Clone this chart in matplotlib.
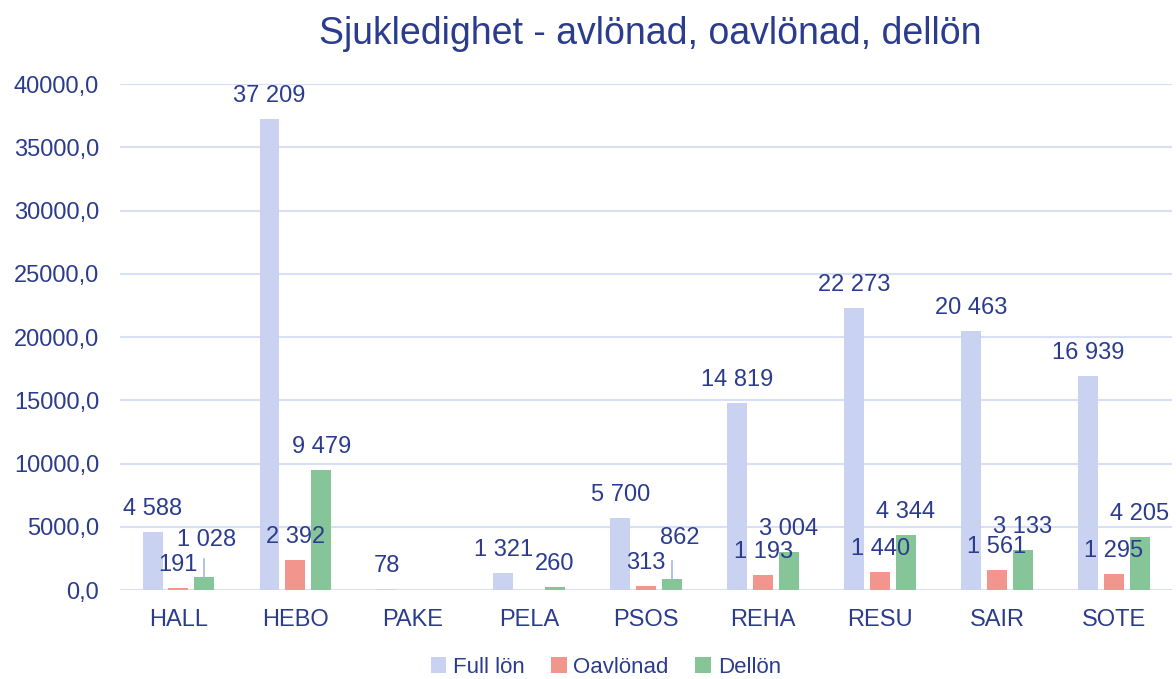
import numpy as np
import matplotlib
matplotlib.use("Agg")
import matplotlib.pyplot as plt

categories = ["HALL", "HEBO", "PAKE", "PELA", "PSOS", "REHA", "RESU", "SAIR", "SOTE"]
full_lon = [4588, 37209, 78, 1321, 5700, 14819, 22273, 20463, 16939]
oavlonad = [191, 2392, np.nan, np.nan, 313, 1193, 1440, 1561, 1295]
dellon = [1028, 9479, np.nan, 260, 862, 3004, 4344, 3133, 4205]
series_names = ["Full lön", "Oavlönad", "Dellön"]
title = "Sjukledighet - avlönad, oavlönad, dellön"

colors = ["#C9D2F1", "#F2968D", "#86C597"]
text_color = "#2B3C8E"
grid_color = "#D9DFF5"

plt.rcParams["font.family"] = ["Liberation Sans", "DejaVu Sans"]

fig = plt.figure(figsize=(11.76, 6.79), dpi=100)
ax = fig.add_axes([0.102, 0.131, 0.895, 0.745])

x = np.arange(len(categories))
width = 0.17
step = 0.221
series = [full_lon, oavlonad, dellon]

# per-label extra offsets (pixels) for labels moved in the original
extra = {(2, 0): (2, 14), (2, 4): (8, 18)}
leader = {(2, 0), (2, 4)}

def fmt(v):
    return f"{int(round(v)):,}".replace(",", " ")

for si, vals in enumerate(series):
    xs = x + (si - 1) * step
    ax.bar(xs, vals, width=width, color=colors[si], label=series_names[si], zorder=3)
    for ci, v in enumerate(vals):
        if np.isnan(v):
            continue
        dx, dy = extra.get((si, ci), (0, 0))
        ax.annotate(fmt(v), (xs[ci], v), xytext=(dx * 0.72, (12 + dy) * 0.72),
                    textcoords="offset points", ha="center", va="bottom",
                    fontsize=17, color=text_color, zorder=5)
        if (si, ci) in leader:
            ax.plot([xs[ci], xs[ci]], [v + 30, v + 1450],
                    color="#A9B6E8", lw=1.2, zorder=4)

ax.set_ylim(0, 40000)
ax.set_xlim(-0.5, 8.5)
ax.set_yticks(np.arange(0, 40001, 5000))
ax.set_yticklabels([f"{v},0" for v in range(0, 40001, 5000)])
ax.set_xticks(x)
ax.set_xticklabels(categories)
ax.tick_params(axis="both", length=0, labelsize=17, colors=text_color)
ax.tick_params(axis="x", pad=14)
ax.tick_params(axis="y", pad=15)
for s in ax.spines.values():
    s.set_visible(False)
ax.yaxis.grid(True, color=grid_color, lw=1.5, zorder=0)
ax.set_axisbelow(True)

fig.text(0.553, 0.95, title, ha="center", va="center", fontsize=27, color=text_color)

leg = fig.legend(loc="center", bbox_to_anchor=(0.515, 0.017), ncol=3, frameon=False,
                 fontsize=16, handlelength=0.7, handleheight=0.7, handletextpad=0.3,
                 columnspacing=1.2, labelcolor=text_color)

fig.savefig("out.png", dpi=100)
